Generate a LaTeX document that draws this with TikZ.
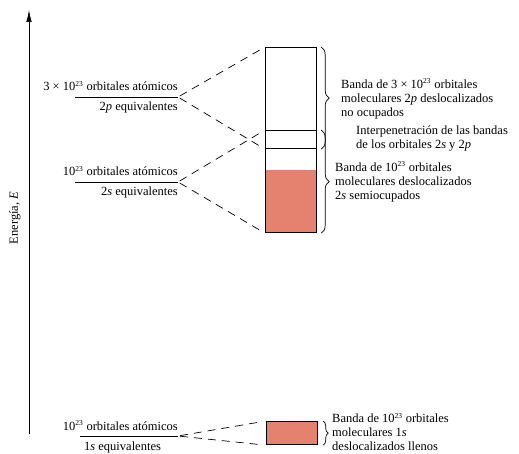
\documentclass[tikz,border=0pt]{standalone}
\usepackage{fontspec}
\setmainfont{Liberation Serif}
\usetikzlibrary{arrows.meta,calc,positioning,decorations.pathreplacing}
\definecolor{bandSalmon}{HTML}{E5816F}
\newcommand{\lblfont}{\fontsize{12.5}{14}\selectfont}
\newcommand{\expo}{\textsuperscript{\fontsize{7.5}{8}\selectfont 23}}

\begin{document}
\begin{tikzpicture}[x=1pt, y=-1pt,
  band/.style={draw=black, line width=1.2pt, minimum width=51pt, inner sep=0pt, anchor=north west},
  bandfill/.style={fill=bandSalmon, draw=none, minimum width=51pt, inner sep=0pt, anchor=north west},
  levelline/.style={line width=0.7pt},
  link/.style={dash pattern=on 8pt off 6pt, line width=0.7pt, shorten <=2pt, shorten >=6pt},
  bracket/.style={decorate, decoration={brace, amplitude=8pt}, line width=0.7pt},
  axis/.style={-{Latex[length=12pt, width=5.5pt]}, line width=0.7pt},
  lvltext/.style={anchor=base east, inner sep=0pt, font=\lblfont},
  bandtext/.style={anchor=west, align=left, inner sep=0pt, font=\lblfont},
]
\useasboundingbox (0,0) rectangle (519,454);

\coordinate (axbot) at (29,434);
\coordinate (axtop) at (29,10);
\draw[axis] (axbot) -- (axtop);
\node[rotate=90, font=\lblfont] (axlabel) at (15,218) {Energía, \textit{E}};

\draw[levelline] (75,97) coordinate (lv2pL) -- (178,97) coordinate (lv2p);
\draw[levelline] (75,182) coordinate (lv2sL) -- (178,182) coordinate (lv2s);
\draw[levelline] (80,436) coordinate (lv1sL) -- (178,436) coordinate (lv1s);

\node[lvltext] (top2p) at (178,91) {3 × 10\expo{} orbitales atómicos};
\node[lvltext] (bot2p) at (178,111) {2\textit{p} equivalentes};
\node[lvltext] (top2s) at (178,176) {10\expo{} orbitales atómicos};
\node[lvltext] (bot2s) at (178,196) {2\textit{s} equivalentes};
\node[lvltext] (top1s) at (178,430) {10\expo{} orbitales atómicos};
\node[lvltext, anchor=base west] (bot1s) at (84,450) {1\textit{s} equivalentes};

\node[bandfill, minimum height=62pt] (fill2s) at (265,170) {};
\node[band, minimum height=101pt] (band2p) at (265,47) {};
\node[band, minimum height=102pt] (band2s) at (265,130) {};
\node[band, fill=bandSalmon, minimum height=23pt] (band1s) at (266,421) {};

\draw[link] (lv2p) -- (band2p.north west);
\draw[link] (lv2p) -- (band2p.south west);
\draw[link] (lv2s) -- (band2s.north west);
\draw[link] (lv2s) -- (band2s.south west);
\draw[link] (lv1s) -- (band1s.north west);
\draw[link] (lv1s) -- (band1s.south west);

\draw[bracket] ($(band2p.north east)+(4,0)$) -- ($(band2p.south east)+(4,0)$);
\draw[bracket] ($(band2s.north east)+(4,0)$) -- ($(band2s.south east)+(4,0)$);
\draw[bracket, decoration={brace, amplitude=5pt}] ($(band1s.north east)+(5,0)$) -- ($(band1s.south east)+(5,0)$);

\node[bandtext] (lbl2p) at (341,99) {Banda de 3 × 10\expo{} orbitales\\moleculares 2\textit{p} deslocalizados\\no ocupados};
\node[bandtext] (lblover) at (356,139) {Interpenetración de las bandas\\de los orbitales 2\textit{s} y 2\textit{p}};
\node[bandtext] (lbl2s) at (335,182) {Banda de 10\expo{} orbitales\\moleculares deslocalizados\\2\textit{s} semiocupados};
\node[bandtext] (lbl1s) at (332,432) {Banda de 10\expo{} orbitales\\moleculares 1\textit{s}\\deslocalizados llenos};
\end{tikzpicture}
\end{document}
